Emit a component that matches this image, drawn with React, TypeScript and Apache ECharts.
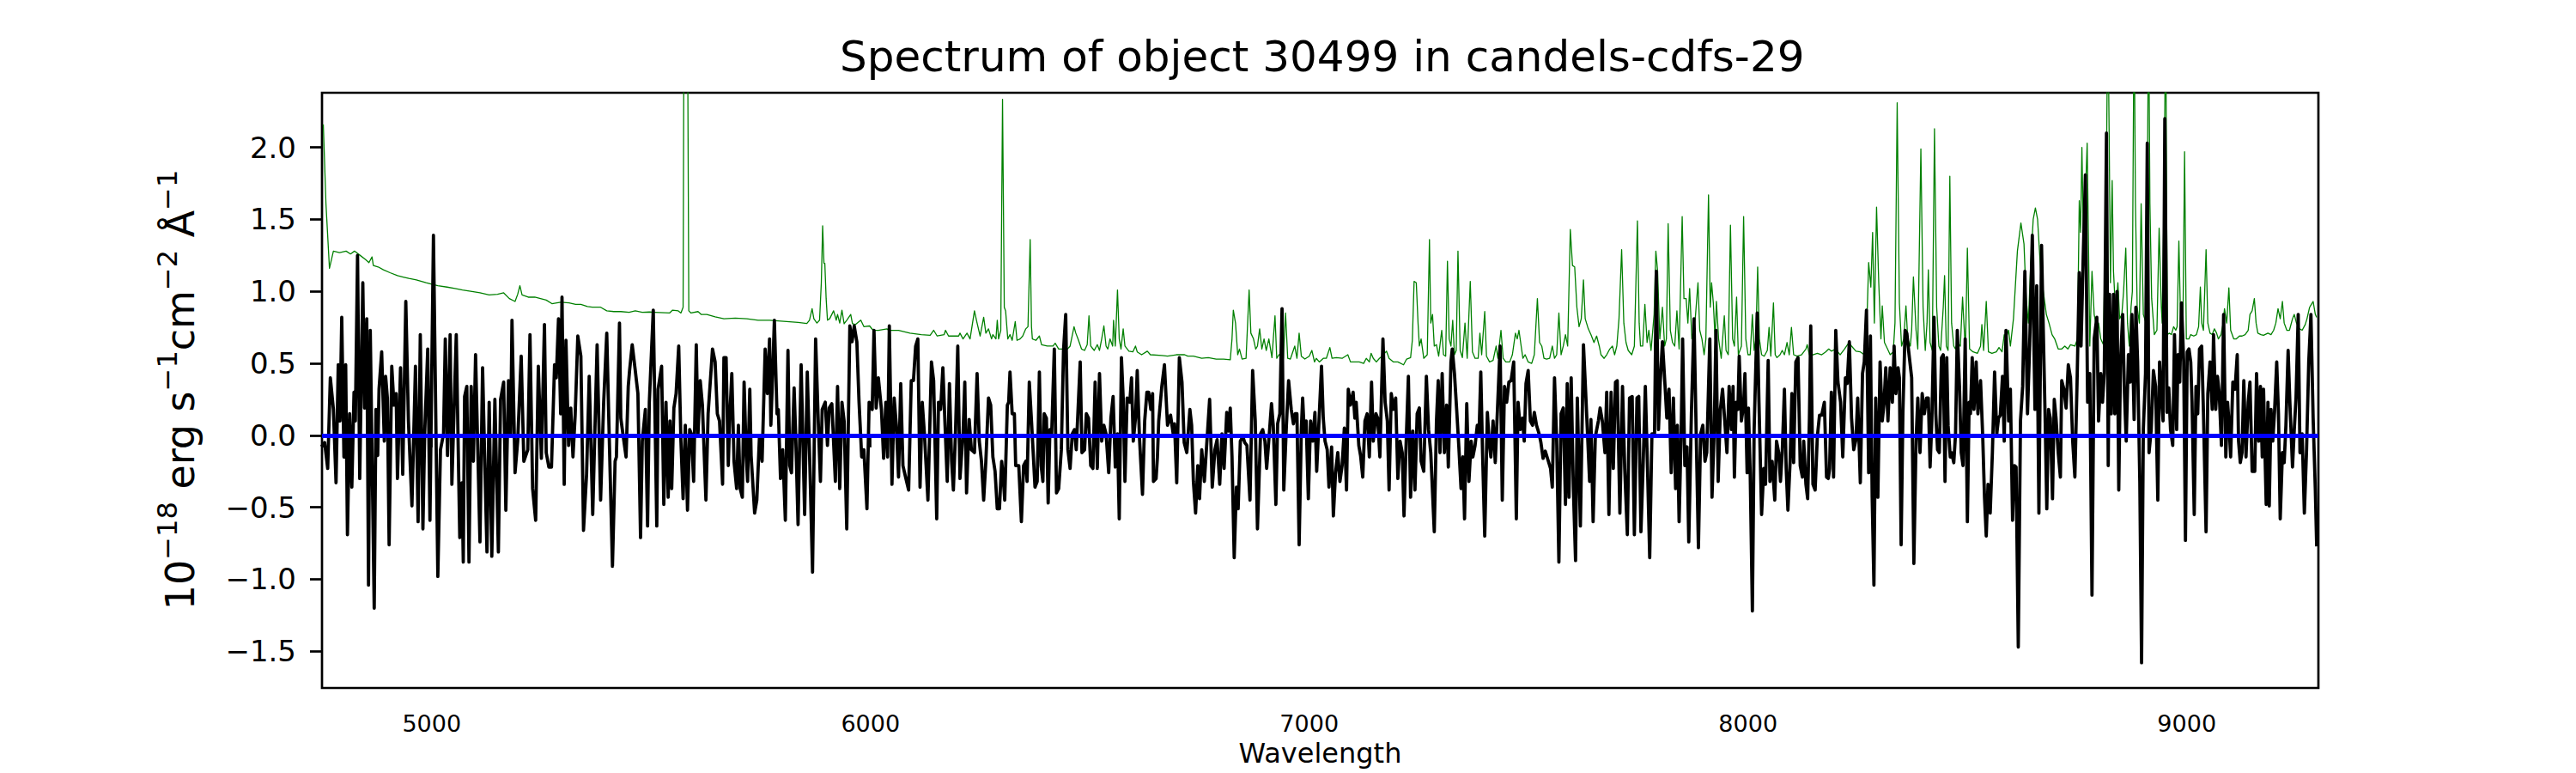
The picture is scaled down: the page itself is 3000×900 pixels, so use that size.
import React, { useEffect, useRef } from "react";
import * as echarts from "echarts";

const TITLE = "Spectrum of object 30499 in candels-cdfs-29";
const X_LABEL = "Wavelength";
const Y_LABEL = "10{sup|\u221218} erg s{sup|\u22121}cm{sup|\u22122} \u00c5{sup|\u22121}";
const X_RANGE = [4750, 9300];
const Y_RANGE = [-1.755, 2.38];
const X_TICKS = [5000, 6000, 7000, 8000, 9000];
const Y_TICKS = [-1.5, -1.0, -0.5, 0.0, 0.5, 1.0, 1.5, 2.0];
const ZERO_LEVEL = 0;

// Object flux [wavelength (A), flux (1e-18 erg/s/cm2/A)]
const flux1 = [[4751,-0.07],[4756,-0.05],[4763,-0.23],[4769,0.40],[4776,0.18],[4782,-0.33],[4787,0.49],[4791,0.10],[4795,0.82],[4800,-0.15],[4804,0.49],[4808,-0.69],[4813,0.15],[4818,-0.36],[4823,0.30],[4826,0.10],[4831,1.25],[4836,-0.30],[4843,1.06],[4847,0.19],[4852,0.81],[4856,-1.04],[4860,0.73],[4869,-1.20],[4873,0.18],[4877,-0.14],[4880,0.32],[4886,0.58],[4892,-0.04],[4895,0.41],[4899,0.26],[4903,-0.76],[4909,0.48],[4914,0.21],[4919,0.29],[4922,-0.30],[4929,0.47],[4934,-0.27],[4941,0.93],[4947,0.10],[4955,-0.49],[4963,0.48],[4969,-0.60],[4974,0.70],[4980,-0.65],[4984,0.01],[4991,0.60],[4996,-0.59],[5004,1.39],[5014,-0.98],[5020,-0.10],[5027,0.01],[5031,0.67],[5036,-0.14],[5042,0.70],[5046,-0.34],[5056,0.70],[5064,-0.71],[5069,-0.33],[5072,-0.88],[5075,0.27],[5080,0.34],[5085,-0.88],[5090,0.34],[5095,-0.18],[5100,0.56],[5110,-0.74],[5116,0.47],[5121,-0.19],[5126,-0.81],[5131,0.23],[5137,-0.84],[5144,0.25],[5152,-0.81],[5157,0.25],[5164,0.37],[5169,-0.52],[5175,0.38],[5180,0.01],[5183,0.80],[5190,-0.26],[5196,-0.04],[5204,0.55],[5210,-0.18],[5219,-0.10],[5224,0.70],[5230,-0.37],[5237,-0.59],[5243,0.48],[5250,-0.16],[5257,0.77],[5261,-0.12],[5267,-0.22],[5273,-0.22],[5280,0.49],[5284,0.40],[5289,0.81],[5294,0.15],[5297,0.96],[5302,-0.34],[5306,0.66],[5312,-0.07],[5317,0.19],[5322,-0.15],[5327,0.14],[5333,0.69],[5340,0.55],[5346,-0.66],[5353,-0.27],[5359,0.41],[5367,-0.55],[5377,0.63],[5385,-0.45]];
const flux2 = [[5392,0.23],[5399,0.71],[5404,0.07],[5412,-0.91],[5418,-0.18],[5421,-0.15],[5428,0.78],[5431,0.12],[5438,-0.04],[5443,-0.15],[5448,0.34],[5451,0.45],[5457,0.63],[5464,0.45],[5470,0.29],[5476,-0.71],[5480,-0.04],[5487,0.18],[5492,-0.63],[5496,0.23],[5505,0.87],[5513,-0.63],[5516,0.32],[5524,0.48],[5529,-0.48],[5534,0.23],[5539,-0.43],[5543,0.10],[5547,-0.37],[5552,0.19],[5557,0.29],[5563,0.62],[5568,-0.04],[5573,-0.44],[5578,0.07],[5583,-0.52],[5588,0.04],[5592,0.01],[5597,-0.32],[5603,0.63],[5607,0.01],[5612,0.38],[5617,0.21],[5625,-0.45],[5630,0.15],[5640,0.60],[5646,0.51],[5651,0.15],[5656,0.10],[5663,-0.34],[5666,0.54],[5671,0.54],[5676,-0.21],[5679,0.10],[5684,0.43],[5689,-0.18],[5695,-0.37],[5699,0.07],[5703,-0.37],[5708,-0.43],[5712,0.37],[5717,-0.15],[5720,-0.32],[5725,0.32],[5728,-0.14],[5736,-0.54],[5741,-0.45],[5747,-0.01],[5753,-0.18],[5760,0.60],[5765,0.29],[5770,0.67],[5773,0.07],[5778,0.51],[5781,0.80],[5787,0.15],[5790,0.18],[5795,-0.30],[5800,-0.10],[5806,-0.59],[5812,0.59],[5816,-0.21],[5820,-0.26],[5826,0.33],[5830,-0.04],[5835,-0.62],[5842,0.49],[5850,-0.55],[5856,0.44],[5862,-0.22],[5868,-0.95],[5875,0.67],[5881,0.10],[5886,-0.32],[5890,0.18],[5897,0.23],[5902,-0.07],[5906,0.19],[5912,0.22],[5920,-0.32],[5925,0.34],[5930,-0.37],[5935,0.23],[5940,0.10],[5946,-0.65],[5953,0.76],[5958,0.65],[5963,0.76],[5969,0.65],[5974,0.23],[5980,-0.15],[5985,-0.10],[5992,-0.51],[5997,0.23],[6004,0.18],[6008,0.73],[6013,0.19],[6018,0.40],[6025,0.18]];
const flux3 = [[6030,-0.16],[6035,0.23],[6039,-0.15],[6043,0.76],[6049,-0.34],[6054,0.26],[6059,0.07],[6064,-0.29],[6069,0.36],[6074,-0.21],[6080,-0.29],[6087,-0.38],[6093,0.38],[6098,0.38],[6103,0.62],[6108,0.67],[6113,-0.36],[6118,0.23],[6123,0.01],[6131,-0.45],[6139,0.51],[6144,0.38],[6151,-0.58],[6155,0.23],[6160,0.18],[6165,0.47],[6170,0.07],[6175,-0.32],[6180,0.36],[6185,-0.18],[6189,-0.38],[6194,0.04],[6199,0.62],[6204,-0.30],[6211,0.01],[6215,0.37],[6219,-0.40],[6225,0.11],[6230,-0.10],[6237,-0.12],[6243,0.43],[6248,-0.04],[6253,-0.18],[6258,-0.45],[6263,-0.18],[6269,0.26],[6274,0.21],[6279,-0.15],[6284,-0.25],[6289,-0.51],[6294,-0.51],[6299,-0.18],[6302,-0.27],[6306,-0.45],[6312,0.21],[6315,0.23],[6318,0.44],[6323,0.15],[6328,0.15],[6331,-0.21],[6338,-0.21],[6344,-0.60],[6349,-0.21],[6354,-0.18],[6357,-0.32],[6362,0.37],[6367,0.10],[6370,-0.07],[6375,-0.36],[6380,-0.32],[6385,0.44],[6389,-0.21],[6393,-0.32],[6396,0.15],[6401,0.12],[6405,-0.47],[6409,0.04],[6413,0.01],[6419,0.60],[6424,-0.40],[6429,-0.37],[6435,-0.10],[6440,0.59],[6445,0.84],[6450,-0.10],[6455,-0.23],[6460,0.01],[6465,0.04],[6469,-0.10],[6478,0.51],[6482,-0.12],[6488,-0.10],[6492,0.15],[6497,0.12],[6502,-0.21],[6507,-0.23],[6512,0.37],[6517,-0.23],[6522,0.43],[6527,-0.04],[6532,0.07],[6537,0.01],[6543,-0.26],[6548,0.12],[6553,0.27],[6558,-0.22],[6563,0.01],[6567,-0.58],[6572,0.54],[6576,0.26],[6580,-0.32],[6585,0.26],[6591,0.23],[6595,0.40],[6599,-0.04],[6604,0.12],[6608,0.45],[6613,-0.01],[6620,-0.41],[6625,0.10],[6630,0.30],[6634,0.30],[6639,0.18],[6643,0.29],[6645,-0.32],[6651,-0.30],[6654,-0.15],[6657,0.10],[6664,0.34],[6670,0.49],[6677,0.07]];
const flux4 = [[6684,0.14],[6690,0.01],[6693,0.08],[6698,-0.33],[6704,0.54],[6710,0.37],[6715,-0.05],[6721,-0.12],[6728,0.18],[6732,0.07],[6736,-0.32],[6741,-0.54],[6746,-0.21],[6750,-0.44],[6755,-0.10],[6761,-0.32],[6766,-0.08],[6773,0.25],[6779,-0.36],[6785,-0.10],[6790,-0.03],[6796,-0.34],[6801,0.01],[6806,-0.23],[6812,0.16],[6816,0.03],[6820,0.19],[6824,-0.15],[6829,-0.85],[6834,-0.36],[6838,-0.51],[6843,-0.04],[6849,-0.01],[6853,-0.05],[6858,-0.07],[6865,-0.45],[6871,0.45],[6877,0.10],[6882,-0.65],[6889,0.01],[6894,0.04],[6899,-0.04],[6903,-0.23],[6909,0.01],[6914,0.22],[6918,0.07],[6924,-0.48],[6928,0.08],[6933,0.15],[6938,0.88],[6942,-0.38],[6948,0.07],[6953,0.38],[6959,0.18],[6964,0.08],[6968,0.15],[6972,0.15],[6977,-0.76],[6982,0.04],[6985,0.26],[6989,0.00],[6993,0.10],[6998,-0.44],[7003,0.10],[7008,-0.04],[7013,0.16],[7017,-0.25],[7023,0.15],[7028,0.48],[7032,0.12],[7036,-0.04],[7041,-0.10],[7045,-0.36],[7051,-0.08],[7055,-0.56],[7060,-0.26],[7065,-0.12],[7070,-0.32],[7075,-0.21],[7080,0.05],[7085,-0.38],[7089,0.32],[7094,0.21],[7100,0.30],[7104,0.12],[7107,0.23],[7113,-0.07],[7117,-0.14],[7122,-0.29],[7127,0.10],[7132,0.15],[7137,-0.15],[7142,0.37],[7146,-0.04],[7152,0.15],[7156,0.12],[7161,-0.15],[7168,0.67],[7173,0.23],[7178,0.10],[7182,-0.38],[7187,0.29],[7192,0.18],[7197,0.26],[7202,-0.30],[7207,-0.04],[7212,-0.12],[7216,-0.56],[7221,-0.04],[7226,0.41],[7231,-0.43],[7236,0.03],[7241,-0.38],[7246,0.15],[7251,0.19],[7255,-0.18],[7261,-0.25],[7267,0.41],[7272,0.04],[7277,-0.12],[7285,-0.67],[7290,0.10],[7294,0.38],[7298,-0.12],[7303,0.43],[7308,-0.12],[7313,0.21],[7317,-0.22],[7323,0.51]];
const flux5 = [[7326,0.60],[7331,0.43],[7336,0.18],[7341,-0.08],[7346,-0.37],[7350,-0.15],[7354,-0.58],[7359,0.22],[7364,-0.32],[7369,-0.04],[7373,-0.15],[7378,-0.07],[7383,0.07],[7387,0.01],[7391,0.44],[7395,-0.12],[7400,-0.70],[7406,0.16],[7410,-0.04],[7414,-0.15],[7419,0.10],[7424,-0.19],[7429,0.18],[7435,0.62],[7440,-0.45],[7445,0.34],[7450,0.23],[7455,0.37],[7460,0.38],[7466,0.51],[7472,-0.58],[7476,0.23],[7481,0.04],[7486,0.12],[7490,-0.04],[7494,0.36],[7499,0.45],[7504,0.10],[7509,0.07],[7513,0.16],[7518,0.07],[7524,0.01],[7528,-0.05],[7533,-0.16],[7538,-0.11],[7545,-0.18],[7550,-0.23],[7554,-0.36],[7559,0.40],[7564,-0.04],[7569,-0.88],[7574,0.15],[7579,0.19],[7584,-0.48],[7588,0.36],[7592,-0.43],[7597,0.40],[7602,-0.37],[7607,-0.87],[7611,0.26],[7618,-0.63],[7625,0.63],[7629,0.37],[7635,-0.04],[7639,-0.32],[7642,0.11],[7647,-0.60],[7652,-0.01],[7659,0.10],[7663,0.19],[7668,0.10],[7674,-0.12],[7678,0.30],[7683,-0.55],[7688,0.30],[7693,-0.23],[7698,0.37],[7702,0.38],[7708,-0.54],[7714,0.34],[7719,-0.23],[7725,-0.69],[7730,0.26],[7736,0.27],[7741,-0.69],[7747,0.26],[7751,0.27],[7756,-0.67],[7761,-0.21],[7766,0.34],[7771,-0.23],[7776,-0.85],[7781,0.01],[7787,0.01],[7791,1.14],[7796,0.04],[7800,0.37],[7805,0.65],[7811,0.34],[7815,0.12],[7820,0.32],[7825,-0.26],[7830,0.26],[7835,-0.37],[7839,0.07],[7843,-0.60],[7848,0.07],[7851,0.67],[7856,-0.21],[7861,-0.08],[7865,-0.74],[7871,0.15],[7877,0.81],[7882,0.01],[7887,-0.78],[7892,0.01],[7897,0.07],[7902,-0.18],[7906,-0.12],[7913,0.67],[7918,-0.43],[7923,0.04],[7927,0.73],[7932,-0.32],[7937,0.18],[7942,0.32],[7947,0.10],[7952,-0.12],[7957,0.34],[7962,0.04],[7966,0.34]];
const flux6 = [[7969,-0.29],[7973,0.23],[7977,0.18],[7980,0.55],[7985,0.10],[7990,0.21],[7993,0.43],[7998,-0.26],[8001,0.19],[8005,-0.26],[8010,-1.22],[8014,0.04],[8021,0.85],[8025,0.23],[8031,-0.55],[8036,-0.23],[8040,-0.34],[8046,0.52],[8050,-0.32],[8055,-0.18],[8061,-0.45],[8065,-0.04],[8070,-0.12],[8074,-0.32],[8078,-0.12],[8083,0.32],[8087,-0.23],[8091,-0.52],[8096,-0.18],[8100,0.29],[8104,-0.19],[8109,0.51],[8114,0.54],[8119,-0.21],[8124,-0.29],[8127,-0.04],[8132,-0.34],[8136,-0.44],[8140,0.12],[8143,0.76],[8148,-0.34],[8153,-0.38],[8158,-0.01],[8163,0.14],[8168,0.14],[8174,0.23],[8179,-0.29],[8183,-0.30],[8186,-0.23],[8190,0.30],[8195,-0.29],[8200,0.73],[8205,0.37],[8211,0.23],[8216,-0.15],[8222,0.40],[8226,0.36],[8231,0.65],[8236,0.12],[8241,-0.10],[8246,-0.03],[8250,0.26],[8256,-0.33],[8261,0.43],[8265,0.51],[8270,0.87],[8275,-0.26],[8279,0.69],[8283,-0.43],[8287,-1.04],[8291,0.26],[8296,-0.43],[8301,0.51],[8306,0.10],[8310,0.22],[8314,0.47],[8319,0.10],[8324,0.47],[8329,0.23],[8333,0.62],[8337,0.29],[8342,0.47],[8345,0.40],[8349,-0.76],[8353,0.15],[8358,0.73],[8362,0.71],[8366,0.59],[8373,0.40],[8378,-0.89],[8383,-0.04],[8387,0.26],[8392,-0.12],[8397,0.29],[8402,0.15],[8407,0.26],[8411,0.26],[8415,-0.22],[8419,0.10],[8424,0.82],[8428,0.15],[8432,-0.10],[8436,-0.12],[8441,0.54],[8445,0.56],[8449,-0.32],[8453,0.54],[8456,0.07],[8461,-0.15],[8464,-0.12],[8469,-0.19],[8473,0.01],[8477,0.73],[8482,0.34],[8486,-0.12],[8490,-0.21],[8495,0.67]];
const flux7 = [[8500,-0.60],[8504,0.23],[8507,0.15],[8511,0.54],[8515,0.18],[8520,0.51],[8524,0.15],[8530,0.38],[8535,-0.01],[8539,-0.43],[8543,-0.70],[8547,-0.34],[8552,-0.54],[8557,-0.12],[8562,0.44],[8567,0.01],[8571,0.12],[8575,0.14],[8580,0.41],[8584,-0.04],[8588,0.73],[8594,0.10],[8598,0.32],[8603,-0.59],[8607,-0.21],[8611,-0.22],[8616,-1.47],[8621,0.10],[8626,0.34],[8631,1.14],[8637,0.15],[8642,0.63],[8648,1.39],[8654,0.18],[8658,1.04],[8663,-0.54],[8669,1.32],[8673,0.73],[8677,0.15],[8681,-0.51],[8685,0.18],[8689,0.12],[8694,-0.44],[8698,0.25],[8702,0.12],[8707,-0.12],[8712,-0.29],[8715,0.38],[8720,0.32],[8725,0.19],[8730,0.49],[8735,0.40],[8740,-0.04],[8745,-0.29],[8750,0.37],[8755,1.13],[8759,0.62],[8764,1.24],[8769,1.81],[8774,0.23],[8779,0.43],[8784,-1.11],[8789,0.67],[8795,0.82],[8799,0.10],[8804,0.43],[8808,0.23],[8812,0.43],[8817,2.10],[8821,-0.21],[8824,0.98],[8828,0.15],[8833,0.98],[8836,0.15],[8841,1.00],[8845,-0.38],[8849,0.51],[8854,0.84],[8858,0.29],[8862,-0.04],[8867,0.56],[8871,0.37],[8875,0.84],[8880,0.11],[8884,0.89],[8888,0.51],[8893,-0.32],[8897,-1.58],[8901,0.04],[8906,0.43],[8910,2.03],[8914,-0.12],[8919,0.04],[8924,0.45],[8929,0.34],[8934,-0.45],[8938,0.51],[8942,0.29],[8946,0.10]];
const flux8 = [[8950,2.20],[8955,0.16],[8959,0.33],[8963,0.04],[8968,-0.07],[8972,0.70],[8977,0.04],[8980,0.56],[8984,0.37],[8988,0.92],[8993,0.51],[8997,-0.73],[9001,0.58],[9005,0.60],[9009,0.51],[9012,0.23],[9017,-0.55],[9021,0.34],[9025,0.15],[9029,0.60],[9034,0.62],[9038,0.16],[9044,-0.67],[9048,0.29],[9053,0.51],[9058,0.18],[9061,0.70],[9066,0.18],[9070,0.41],[9074,0.29],[9079,-0.07],[9084,0.84],[9089,-0.15],[9093,0.23],[9096,0.10],[9100,-0.15],[9105,0.37],[9110,0.32],[9115,0.56],[9118,-0.04],[9122,-0.19],[9126,-0.12],[9130,0.38],[9135,-0.15],[9140,0.23],[9144,0.37],[9149,-0.25],[9155,-0.25],[9159,0.43],[9164,-0.04],[9168,0.34],[9172,-0.15],[9175,0.32],[9181,-0.48],[9185,0.23],[9188,-0.49],[9192,0.18],[9196,-0.04],[9200,0.16],[9205,0.51],[9209,0.15],[9213,-0.58],[9218,-0.12],[9222,-0.19],[9226,0.07],[9231,0.59],[9235,0.23],[9241,-0.22],[9245,0.04],[9249,0.26],[9254,0.84],[9258,-0.12],[9263,0.01],[9268,-0.54],[9273,-0.10],[9278,0.51],[9283,0.84],[9288,0.12],[9293,-0.38],[9296,-0.76]];

// Sky spectrum [wavelength (A), scaled sky flux]
const sky1 = [[4753,2.16],[4759,1.61],[4767,1.16],[4776,1.28],[4790,1.27],[4805,1.28],[4815,1.26],[4824,1.28],[4837,1.25],[4850,1.22],[4857,1.20],[4864,1.24],[4867,1.18],[4878,1.17],[4890,1.15],[4905,1.13],[4922,1.11],[4935,1.10],[4948,1.09],[4965,1.08],[4987,1.06],[5000,1.05],[5014,1.04],[5035,1.03],[5053,1.02],[5070,1.01],[5092,1.00],[5110,0.99],[5131,0.975],[5150,0.98],[5164,0.99],[5177,0.95],[5190,0.93],[5196,0.98],[5201,1.04],[5206,0.975],[5220,0.96],[5235,0.96],[5248,0.95],[5261,0.94],[5274,0.915],[5294,0.925],[5313,0.92],[5328,0.91],[5340,0.91],[5355,0.895],[5366,0.89],[5385,0.89]];
const sky2 = [[5399,0.865],[5415,0.86],[5431,0.86],[5450,0.855],[5464,0.865],[5480,0.855],[5496,0.857],[5520,0.853],[5542,0.85],[5549,0.87],[5562,0.865],[5568,0.85],[5573,0.89],[5575,3.0],[5583,3.0],[5586,0.865],[5591,0.85],[5607,0.86],[5614,0.84],[5627,0.84],[5646,0.824],[5666,0.81],[5692,0.815],[5718,0.81],[5744,0.80],[5770,0.80],[5809,0.79],[5835,0.785],[5855,0.777],[5861,0.80],[5867,0.88],[5871,0.81],[5878,0.78],[5884,0.80],[5888,1.06],[5891,1.456],[5894,1.195],[5896,1.195],[5899,0.95],[5902,0.80],[5907,0.81],[5916,0.865],[5922,0.80],[5925,0.84],[5930,0.78],[5935,0.87],[5940,0.775],[5946,0.80],[5955,0.84],[5959,0.775],[5966,0.77],[5978,0.80],[5985,0.755],[5998,0.76],[6006,0.73],[6018,0.73]];
const sky3 = [[6038,0.74],[6041,0.73],[6064,0.73],[6090,0.71],[6116,0.70],[6136,0.695],[6144,0.73],[6152,0.69],[6168,0.70],[6171,0.73],[6178,0.69],[6201,0.69],[6204,0.71],[6211,0.67],[6220,0.71],[6227,0.67],[6237,0.865],[6243,0.78],[6250,0.69],[6258,0.82],[6263,0.71],[6269,0.74],[6276,0.67],[6279,0.70],[6286,0.67],[6289,0.80],[6292,0.67],[6297,0.73],[6301,2.335],[6305,0.89],[6308,0.865],[6313,0.67],[6318,0.70],[6323,0.66],[6330,0.79],[6334,0.66],[6341,0.67],[6347,0.69],[6354,0.74],[6359,0.755],[6364,1.36],[6367,0.755],[6369,0.67],[6377,0.66],[6385,0.69],[6390,0.63],[6403,0.62],[6416,0.62],[6421,0.64],[6429,0.60],[6439,0.60],[6449,0.60],[6455,0.62],[6464,0.755],[6468,0.71],[6473,0.67],[6481,0.60],[6488,0.59],[6494,0.63],[6498,0.83],[6502,0.62],[6510,0.59],[6517,0.63],[6522,0.59],[6527,0.67],[6532,0.76],[6537,0.62],[6541,0.60],[6546,0.67],[6552,0.62],[6554,0.80],[6558,0.62],[6563,1.01],[6567,0.67],[6571,0.60],[6576,0.74],[6580,0.62],[6589,0.585],[6598,0.58],[6604,0.62],[6608,0.58],[6618,0.56],[6631,0.585],[6638,0.56],[6664,0.555]];
const sky4 = [[6677,0.55],[6697,0.56],[6716,0.56],[6723,0.55],[6736,0.55],[6755,0.535],[6770,0.54],[6788,0.53],[6805,0.53],[6820,0.525],[6824,0.67],[6827,0.87],[6832,0.78],[6837,0.56],[6841,0.60],[6847,0.53],[6856,0.535],[6863,1.01],[6867,0.71],[6873,0.67],[6878,0.60],[6882,0.62],[6887,0.74],[6892,0.60],[6897,0.67],[6902,0.59],[6908,0.67],[6915,0.54],[6922,0.83],[6926,0.535],[6931,0.56],[6937,0.56],[6941,0.535],[6946,0.85],[6951,0.535],[6957,0.53],[6967,0.62],[6972,0.535],[6977,0.71],[6982,0.55],[6990,0.53],[7000,0.55],[7006,0.59],[7012,0.51],[7016,0.535],[7023,0.51],[7032,0.535],[7039,0.535],[7047,0.61],[7052,0.535],[7062,0.54],[7075,0.535],[7088,0.56],[7094,0.51],[7114,0.51],[7124,0.50],[7130,0.535],[7137,0.51],[7141,0.57],[7146,0.535],[7153,0.51],[7160,0.535],[7166,0.55],[7176,0.585],[7182,0.535],[7192,0.51],[7202,0.51],[7215,0.49],[7222,0.53],[7231,0.54],[7235,0.66],[7239,1.07],[7244,1.06],[7248,0.78],[7251,0.62],[7255,0.67],[7261,0.535],[7269,0.56],[7274,1.36],[7277,0.78],[7281,0.84],[7285,0.62],[7290,0.63],[7295,0.55],[7302,0.73],[7306,0.56],[7311,0.55],[7315,1.21],[7319,0.67]];
const sky5 = [[7323,0.62],[7327,0.80],[7331,0.56],[7335,0.59],[7339,1.28],[7344,0.59],[7349,0.54],[7355,0.78],[7360,0.535],[7367,1.07],[7372,0.58],[7378,0.535],[7385,0.535],[7389,0.71],[7393,0.56],[7400,0.86],[7404,0.55],[7411,0.51],[7419,0.52],[7426,0.62],[7430,0.535],[7437,0.73],[7442,0.535],[7448,0.51],[7457,0.51],[7463,0.56],[7470,0.71],[7474,0.67],[7478,0.73],[7483,0.62],[7487,0.535],[7492,0.56],[7499,0.51],[7507,0.50],[7513,0.56],[7520,0.95],[7525,0.645],[7530,0.62],[7535,0.535],[7541,0.53],[7548,0.535],[7554,0.62],[7559,0.535],[7564,0.56],[7569,0.85],[7574,0.56],[7579,0.62],[7584,0.70],[7589,0.62],[7595,1.43],[7600,1.18],[7605,1.17],[7610,0.89],[7615,0.755],[7620,0.81],[7625,1.08],[7629,0.81],[7636,0.74],[7642,0.70],[7649,0.645],[7655,0.69],[7661,0.62],[7665,0.56],[7672,0.535],[7678,0.56],[7685,0.60],[7691,0.62],[7696,0.56],[7701,0.62],[7706,0.81],[7712,1.29],[7717,0.78],[7722,0.645],[7727,0.59],[7735,0.56],[7741,0.62],[7748,1.49],[7752,0.78],[7755,0.62],[7760,0.62],[7765,0.91],[7770,0.645],[7774,0.73],[7779,0.59],[7786,0.84],[7790,1.28],[7794,1.14],[7799,0.67],[7805,0.89],[7810,0.62],[7814,0.67],[7818,1.47],[7823,0.73],[7828,0.645],[7833,0.62],[7838,0.865],[7843,0.60],[7850,1.52],[7854,0.95],[7859,0.95],[7863,0.78],[7867,1.02],[7872,0.67],[7876,0.73],[7880,0.82],[7886,1.06],[7890,0.73],[7895,0.67],[7900,0.56],[7904,0.67],[7910,1.67],[7914,0.89],[7917,1.06],[7921,0.92],[7925,0.67],[7928,0.93],[7933,0.67],[7939,0.535],[7946,0.83],[7950,0.59],[7955,0.56],[7960,1.46],[7965,0.67]];
const sky6 = [[7969,0.62],[7974,0.96],[7978,0.56],[7985,0.62],[7990,1.52],[7995,0.67],[8000,0.56],[8005,0.56],[8010,0.84],[8014,0.59],[8018,0.67],[8022,1.17],[8026,0.67],[8031,0.56],[8037,0.55],[8044,0.59],[8048,0.75],[8052,0.55],[8058,0.92],[8062,0.56],[8066,0.54],[8073,0.56],[8078,0.59],[8083,0.56],[8089,0.645],[8094,0.56],[8099,0.75],[8104,0.56],[8112,0.55],[8122,0.56],[8132,0.60],[8135,0.63],[8140,0.56],[8148,0.56],[8158,0.57],[8168,0.56],[8177,0.58],[8184,0.60],[8190,0.585],[8200,0.60],[8210,0.56],[8220,0.60],[8230,0.645],[8236,0.62],[8246,0.585],[8256,0.58],[8265,0.56],[8272,0.89],[8275,1.20],[8280,1.03],[8284,1.41],[8288,0.78],[8293,1.585],[8298,1.06],[8303,0.67],[8306,0.90],[8311,0.645],[8318,0.60],[8324,0.56],[8331,0.58],[8335,0.78],[8340,2.31],[8345,0.92],[8350,0.62],[8355,0.67],[8360,0.90],[8364,0.67],[8370,0.62],[8373,0.73],[8377,1.10],[8383,0.73],[8387,0.60],[8394,1.99],[8399,0.89],[8404,0.59],[8408,0.78],[8411,1.15],[8415,0.645],[8420,0.59],[8425,2.13],[8430,0.89],[8435,0.62],[8439,0.59],[8445,0.89],[8448,1.11],[8452,0.62],[8456,0.59],[8460,1.80],[8464,0.78],[8469,0.62],[8473,0.60],[8477,0.645],[8484,0.62],[8489,0.96],[8494,0.67]];
const sky7 = [[8496,0.67],[8500,1.30],[8505,0.60],[8513,0.58],[8523,0.57],[8530,0.62],[8533,0.77],[8537,0.59],[8543,0.93],[8548,0.58],[8556,0.57],[8566,0.58],[8572,0.61],[8579,0.58],[8584,0.70],[8588,0.67],[8594,0.73],[8598,0.62],[8605,0.81],[8614,1.28],[8622,1.475],[8629,1.33],[8634,0.95],[8639,0.78],[8644,1.17],[8650,1.50],[8655,1.58],[8660,1.50],[8667,1.14],[8673,1.00],[8680,0.84],[8686,0.78],[8693,0.70],[8699,0.67],[8707,0.60],[8715,0.60],[8722,0.62],[8729,0.60],[8735,0.63],[8745,0.62],[8751,0.67],[8755,1.63],[8758,1.41],[8761,2.00],[8764,1.44],[8769,1.66],[8773,2.03],[8776,1.33],[8779,0.62],[8784,1.14],[8789,0.84],[8794,0.755],[8799,0.78],[8804,0.67],[8810,0.63],[8817,1.88],[8820,3.0],[8823,2.13],[8826,1.06],[8830,1.77],[8833,1.14],[8838,0.84],[8843,1.06],[8847,0.81],[8852,0.84],[8856,1.00],[8861,1.30],[8865,0.78],[8869,0.62],[8873,0.89],[8876,1.00],[8880,3.0],[8883,1.61],[8887,0.89],[8892,0.78],[8896,1.61],[8901,0.84],[8907,0.78],[8911,2.10],[8913,3.0],[8916,1.61],[8920,0.95],[8926,0.70],[8932,0.73],[8937,1.44],[8942,0.89]];
const sky8 = [[8944,0.78],[8948,1.61],[8952,3.0],[8954,1.61],[8956,0.70],[8960,0.71],[8965,0.70],[8970,0.755],[8975,0.73],[8978,0.755],[8982,1.35],[8986,0.78],[8991,0.67],[8995,1.97],[8999,0.67],[9005,0.67],[9009,0.70],[9016,0.69],[9022,0.70],[9027,0.755],[9031,1.03],[9034,0.78],[9038,0.73],[9044,1.29],[9048,0.78],[9053,0.71],[9058,0.70],[9063,0.74],[9068,0.71],[9072,0.67],[9078,0.70],[9083,0.78],[9086,0.88],[9091,0.78],[9096,1.025],[9100,0.73],[9107,0.67],[9113,0.67],[9120,0.69],[9126,0.69],[9133,0.70],[9140,0.73],[9144,0.84],[9149,0.865],[9154,0.95],[9158,0.78],[9162,0.71],[9169,0.70],[9175,0.695],[9185,0.71],[9192,0.70],[9198,0.73],[9203,0.78],[9208,0.88],[9213,0.81],[9218,0.93],[9222,0.78],[9228,0.73],[9234,0.73],[9241,0.81],[9245,0.84],[9250,0.78],[9257,0.74],[9263,0.73],[9270,0.77],[9274,0.81],[9280,0.89],[9284,0.91],[9288,0.93],[9293,0.84],[9296,0.82]];

const FONT = "DejaVu Sans";

function fmtY(v: number): string {
  const s = Math.abs(v).toFixed(1);
  return v < -1e-9 ? "\u2212" + s : s;
}

export default function App() {
  const ref = useRef<HTMLDivElement>(null);

  useEffect(() => {
    if (!ref.current) return;
    const chart = echarts.init(ref.current, null, { renderer: "svg" });
    const flux = [...flux1, ...flux2, ...flux3, ...flux4, ...flux5, ...flux6, ...flux7, ...flux8];
    const sky = [...sky1, ...sky2, ...sky3, ...sky4, ...sky5, ...sky6, ...sky7, ...sky8];

    chart.setOption({
      animation: false,
      backgroundColor: "#ffffff",
      textStyle: { fontFamily: FONT, color: "#000" },
      title: {
        text: TITLE,
        left: 978,
        top: 41,
        padding: 0,
        textStyle: { fontFamily: FONT, fontSize: 50, fontWeight: "normal", color: "#000" },
      },
      grid: {
        left: 375,
        right: 300,
        top: 108,
        bottom: 99,
        show: true,
        borderColor: "#000",
        borderWidth: 2.7,
        backgroundColor: "transparent",
        containLabel: false,
      },
      xAxis: {
        type: "value",
        min: X_RANGE[0],
        max: X_RANGE[1],
        name: X_LABEL,
        nameLocation: "middle",
        nameGap: 59,
        nameTextStyle: { fontFamily: FONT, fontSize: 32, color: "#000" },
        axisLine: { show: false },
        splitLine: { show: false },
        axisTick: {
          show: true,
          inside: false,
          length: 14,
          customValues: X_TICKS,
          lineStyle: { color: "#000", width: 2.7 },
        },
        axisLabel: {
          show: true,
          margin: 28,
          customValues: X_TICKS,
          fontFamily: FONT,
          fontSize: 27,
          color: "#000",
          formatter: (v: number) => String(Math.round(v)),
        },
      },
      yAxis: {
        type: "value",
        min: Y_RANGE[0],
        max: Y_RANGE[1],
        axisLine: { show: false },
        splitLine: { show: false },
        axisTick: {
          show: true,
          inside: false,
          length: 14,
          customValues: Y_TICKS,
          lineStyle: { color: "#000", width: 2.7 },
        },
        axisLabel: {
          show: true,
          margin: 30,
          customValues: Y_TICKS,
          fontFamily: FONT,
          fontSize: 34,
          color: "#000",
          formatter: (v: number) => fmtY(v),
        },
      },
      graphic: [
        {
          type: "text",
          x: 210,
          y: 454,
          rotation: Math.PI / 2,
          silent: true,
          style: {
            text: Y_LABEL,
            fontFamily: FONT,
            fontSize: 46,
            lineHeight: 62,
            fill: "#000",
            align: "center",
            verticalAlign: "middle",
            rich: {
              sup: {
                fontFamily: FONT,
                fontSize: 32,
                lineHeight: 32,
                verticalAlign: "top",
                fill: "#000",
              },
            },
          },
        },
      ],
      series: [
        {
          name: "sky",
          type: "line",
          data: sky,
          showSymbol: false,
          symbol: "none",
          clip: true,
          z: 2,
          lineStyle: { color: "#008000", width: 1.3, join: "round" },
          markLine: {
            silent: true,
            symbol: ["none", "none"],
            label: { show: false },
            lineStyle: { color: "#0000ff", width: 5, type: "solid" },
            data: [{ yAxis: ZERO_LEVEL }],
          },
        },
        {
          name: "flux",
          type: "line",
          data: flux,
          showSymbol: false,
          symbol: "none",
          clip: true,
          z: 3,
          lineStyle: { color: "#000000", width: 3.8, join: "round", cap: "square" },
        },
      ],
    });

    return () => chart.dispose();
  }, []);

  return (
    <div
      ref={ref}
      style={{ position: "absolute", left: 0, top: 0, width: 3000, height: 900, background: "#fff" }}
    />
  );
}
